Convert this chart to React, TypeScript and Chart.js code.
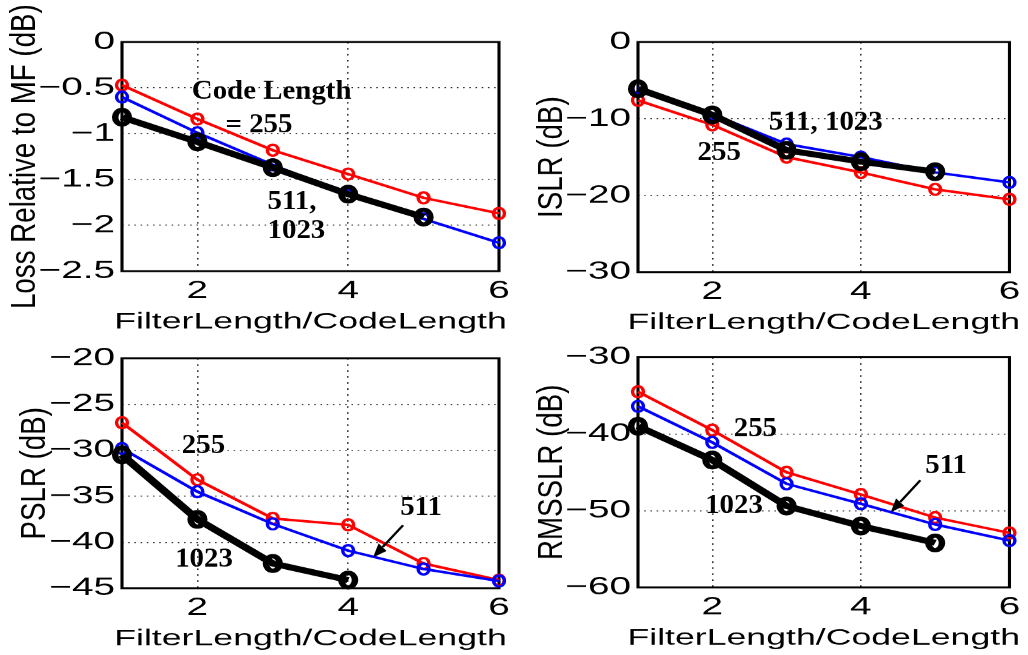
import React, { useEffect, useRef } from 'react';
import { Chart, registerables } from 'chart.js';

Chart.register(...registerables);

// ---------- data ----------
const X_VALUES = [1, 2, 3, 4, 5, 6];
const X_TICKS = [2, 4, 6];

const LOSS_255 = [-0.47, -0.84, -1.18, -1.44, -1.70, -1.87];
const LOSS_511 = [-0.60, -0.99, -1.34, -1.67, -1.93, -2.19];
const LOSS_1023 = [-0.82, -1.09, -1.37, -1.66, -1.91];
const LOSS_TICKS = [0, -0.5, -1, -1.5, -2, -2.5];

const ISLR_255 = [-7.6, -10.8, -15.0, -17.0, -19.2, -20.5];
const ISLR_511 = [-6.0, -9.4, -13.3, -15.0, -17.0, -18.3];
const ISLR_1023 = [-6.1, -9.5, -14.1, -15.6, -16.9];
const ISLR_TICKS = [0, -10, -20, -30];

const PSLR_255 = [-27.0, -33.2, -37.4, -38.1, -42.3, -44.1];
const PSLR_511 = [-29.8, -34.5, -38.0, -40.9, -42.9, -44.2];
const PSLR_1023 = [-30.5, -37.5, -42.3, -44.1];
const PSLR_TICKS = [-20, -25, -30, -35, -40, -45];

const RMS_255 = [-34.5, -39.5, -45.0, -47.9, -50.9, -52.9];
const RMS_511 = [-36.4, -41.1, -46.5, -49.1, -51.8, -53.9];
const RMS_1023 = [-39.0, -43.4, -49.4, -52.0, -54.2];
const RMS_TICKS = [-30, -40, -50, -60];

type Note = { text: string; x: number; y: number; align: CanvasTextAlign };
type Arrow = { x1: number; y1: number; x2: number; y2: number };

const LOSS_NOTES: Note[] = [
  { text: 'Code Length', x: 2.985, y: -0.546, align: 'center' },
  { text: '= 255', x: 2.817, y: -0.906, align: 'center' },
  { text: '511,', x: 2.93, y: -1.747, align: 'left' },
  { text: '1023', x: 2.93, y: -2.063, align: 'left' },
];
const ISLR_NOTES: Note[] = [
  { text: '511, 1023', x: 3.527, y: -10.5, align: 'center' },
  { text: '255', x: 2.093, y: -14.48, align: 'center' },
];
const PSLR_NOTES: Note[] = [
  { text: '255', x: 2.081, y: -29.57, align: 'center' },
  { text: '1023', x: 2.088, y: -41.85, align: 'center' },
  { text: '511', x: 4.966, y: -36.25, align: 'center' },
];
const PSLR_ARROWS: Arrow[] = [{ x1: 4.727, y1: -38.15, x2: 4.329, y2: -41.63 }];
const RMS_NOTES: Note[] = [
  { text: '255', x: 2.58, y: -39.39, align: 'center' },
  { text: '1023', x: 2.293, y: -49.43, align: 'center' },
  { text: '511', x: 5.147, y: -44.22, align: 'center' },
];
const RMS_ARROWS: Arrow[] = [{ x1: 4.8, y1: -46.04, x2: 4.4, y2: -50.22 }];

// ---------- layout ----------
const FIG_W = 1028;
const FIG_H = 655;
const CW = 663; // canvas logical width (figure is stretched horizontally)
const S = FIG_W / CW;

type Panel = {
  s255: number[];
  s511: number[];
  s1023: number[];
  ticks: number[];
  yTitle: string;
  rect: [number, number, number, number]; // left,right,top,bottom in figure px
  yTitleX: number; // baseline x in figure px
  notes: Note[];
  arrows: Arrow[];
};

const PANELS: Panel[] = [
  { s255: LOSS_255, s511: LOSS_511, s1023: LOSS_1023, ticks: LOSS_TICKS, yTitle: 'Loss Relative to MF (dB)', rect: [122, 499, 42, 271], yTitleX: 35, notes: LOSS_NOTES, arrows: [] },
  { s255: ISLR_255, s511: ISLR_511, s1023: ISLR_1023, ticks: ISLR_TICKS, yTitle: 'ISLR (dB)', rect: [638, 1013, 42, 272], yTitleX: 562, notes: ISLR_NOTES, arrows: [] },
  { s255: PSLR_255, s511: PSLR_511, s1023: PSLR_1023, ticks: PSLR_TICKS, yTitle: 'PSLR (dB)', rect: [122, 499, 358, 588], yTitleX: 45, notes: PSLR_NOTES, arrows: PSLR_ARROWS },
  { s255: RMS_255, s511: RMS_511, s1023: RMS_1023, ticks: RMS_TICKS, yTitle: 'RMSSLR (dB)', rect: [638, 1013, 357, 587], yTitleX: 562, notes: RMS_NOTES, arrows: RMS_ARROWS },
];

const MARKERS = [
  { rx: 3.5, ry: 5.5, lw: 2.2 },
  { rx: 3.5, ry: 5.5, lw: 2.2 },
  { rx: 4.4, ry: 7.3, lw: 4.2 },
];

const SANS = '"Liberation Sans", Arial, Helvetica, sans-serif';
const SERIF = '"Liberation Serif", "Times New Roman", serif';

const fmt = (v: number) => {
  if (v === 0) return '0';
  const a = String(Math.abs(v));
  return v < 0 ? '\u2212' + a : a;
};

function panelPlugin(p: Panel) {
  return {
    id: 'panelDecor',
    beforeDatasetsDraw(chart: any) {
      const { ctx, chartArea: a } = chart;
      ctx.save();
      ctx.strokeStyle = '#000';
      ctx.lineWidth = 2;
      ctx.setLineDash([]);
      ctx.strokeRect(a.left, a.top, a.right - a.left, a.bottom - a.top);
      ctx.restore();
    },
    afterDatasetDraw(chart: any, args: any) {
      const { ctx } = chart;
      const ds = chart.data.datasets[args.index];
      const m = MARKERS[args.index];
      ctx.save();
      ctx.strokeStyle = ds.borderColor;
      ctx.lineWidth = m.lw;
      ctx.setLineDash([]);
      for (const el of args.meta.data) {
        ctx.beginPath();
        ctx.ellipse(el.x, el.y, m.rx, m.ry, 0, 0, Math.PI * 2);
        ctx.stroke();
      }
      ctx.restore();
    },
    afterDraw(chart: any) {
      const { ctx, chartArea: a } = chart;
      const xs = chart.scales.x;
      const ys = chart.scales.y;
      ctx.save();
      ctx.fillStyle = '#000';
      // x title
      ctx.font = `23px ${SANS}`;
      ctx.textAlign = 'center';
      ctx.textBaseline = 'alphabetic';
      ctx.fillText('FilterLength/CodeLength', (a.left + a.right) / 2, a.bottom + 57);
      // y title
      ctx.save();
      ctx.translate(p.yTitleX / S, (a.top + a.bottom) / 2);
      ctx.rotate(-Math.PI / 2);
      ctx.scale(1.23, 1);
      ctx.font = `22.5px ${SANS}`;
      ctx.textAlign = 'center';
      ctx.textBaseline = 'alphabetic';
      ctx.fillText(p.yTitle, 0, 0);
      ctx.restore();
      // annotations
      for (const n of p.notes) {
        ctx.save();
        ctx.translate(xs.getPixelForValue(n.x), ys.getPixelForValue(n.y));
        ctx.scale(1.07 / S, 1);
        ctx.font = `bold 27px ${SERIF}`;
        ctx.textAlign = n.align;
        ctx.textBaseline = 'middle';
        ctx.fillText(n.text, 0, 0);
        ctx.restore();
      }
      // arrows
      for (const ar of p.arrows) {
        const x1 = xs.getPixelForValue(ar.x1), y1 = ys.getPixelForValue(ar.y1);
        const x2 = xs.getPixelForValue(ar.x2), y2 = ys.getPixelForValue(ar.y2);
        const dx = (x2 - x1) * S, dy = y2 - y1;
        const len = Math.hypot(dx, dy);
        const ux = dx / len, uy = dy / len;
        const hl = 14, hw = 5.5;
        const bx = x2 * S - ux * hl, by = y2 - uy * hl;
        ctx.strokeStyle = '#000';
        ctx.lineWidth = 1.7;
        ctx.beginPath();
        ctx.moveTo(x1, y1);
        ctx.lineTo(bx / S, by);
        ctx.stroke();
        ctx.beginPath();
        ctx.moveTo(x2, y2);
        ctx.lineTo((bx - uy * hw) / S, by + ux * hw);
        ctx.lineTo((bx + uy * hw) / S, by - ux * hw);
        ctx.closePath();
        ctx.fill();
      }
      ctx.restore();
    },
  };
}

function makeChart(canvas: HTMLCanvasElement, p: Panel) {
  const L = p.rect[0] / S, R = p.rect[1] / S, T = p.rect[2], B = p.rect[3];
  const mk = (vals: number[]) => vals.map((v, i) => ({ x: X_VALUES[i], y: v }));
  const yMax = Math.max(...p.ticks), yMin = Math.min(...p.ticks);
  const tickFont = { family: SANS, size: 25 };
  const line = (vals: number[], color: string, width: number, order: number) => ({
    data: mk(vals),
    borderColor: color,
    backgroundColor: color,
    borderWidth: width,
    pointRadius: 0,
    pointHoverRadius: 0,
    fill: false,
    tension: 0,
    clip: false as any,
    order,
  });
  return new Chart(canvas, {
    type: 'line',
    data: {
      datasets: [
        line(p.s255, '#ff0000', 2.5, 3),
        line(p.s511, '#0000ff', 2.5, 2),
        line(p.s1023, '#000000', 6, 1),
      ],
    },
    options: {
      responsive: false,
      animation: false,
      devicePixelRatio: S,
      events: [],
      layout: { padding: { left: 0, top: T, right: CW - R, bottom: 0 } },
      plugins: { legend: { display: false }, tooltip: { enabled: false } },
      scales: {
        x: {
          type: 'linear',
          min: 1,
          max: 6,
          afterBuildTicks: (s: any) => { s.ticks = X_TICKS.map((v) => ({ value: v })); },
          afterFit: (s: any) => { s.height = FIG_H - B; },
          grid: { color: '#222', lineWidth: 1, drawTicks: false },
          border: { display: false, dash: [1.5, 4.5] },
          ticks: { padding: 5, font: tickFont, color: '#000', maxRotation: 0, autoSkip: false, callback: (v: any) => fmt(Number(v)) },
        },
        y: {
          type: 'linear',
          min: yMin,
          max: yMax,
          afterBuildTicks: (s: any) => { s.ticks = p.ticks.map((v) => ({ value: v })); },
          afterFit: (s: any) => { s.width = L; },
          grid: { color: '#222', lineWidth: 1, drawTicks: false },
          border: { display: false, dash: [1, 3] },
          ticks: { padding: 4.5, font: tickFont, color: '#000', autoSkip: false, callback: (v: any) => fmt(Number(v)) },
        },
      },
    } as any,
    plugins: [panelPlugin(p)],
  });
}

function PanelCanvas({ p }: { p: Panel }) {
  const ref = useRef<HTMLCanvasElement | null>(null);
  useEffect(() => {
    if (!ref.current) return;
    const chart = makeChart(ref.current, p);
    return () => chart.destroy();
  }, [p]);
  return (
    <canvas
      ref={ref}
      width={CW}
      height={FIG_H}
      style={{ position: 'absolute', left: 0, top: 0, width: `${FIG_W}px`, height: `${FIG_H}px` }}
    />
  );
}

export default function App() {
  return (
    <div style={{ position: 'absolute', left: 0, top: 0, width: FIG_W, height: FIG_H, background: '#fff', overflow: 'hidden' }}>
      {PANELS.map((p, i) => (
        <PanelCanvas key={i} p={p} />
      ))}
    </div>
  );
}
